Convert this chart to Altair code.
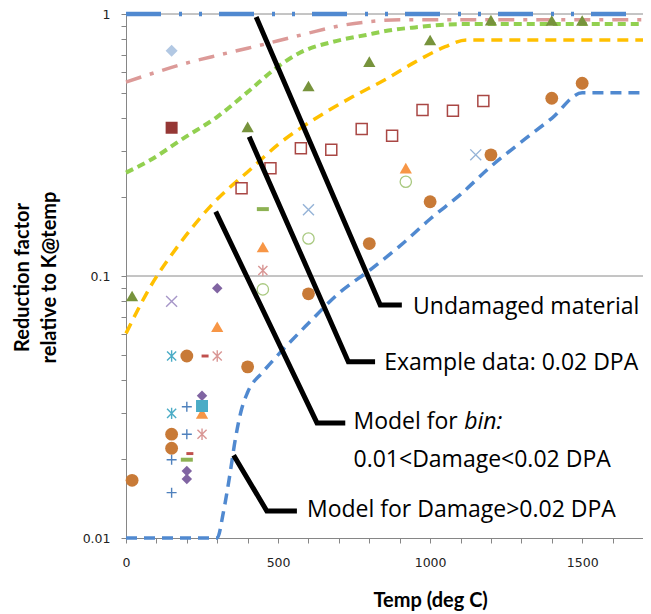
import altair as alt
import pandas as pd

# ---------------- axes ----------------
X_DOMAIN = [0, 1700]
Y_DOMAIN = [0.01, 1]
x_tick_vals = list(range(0, 1701, 100))
y_tick_vals = [0.01, 0.02, 0.03, 0.04, 0.05, 0.06, 0.07, 0.08, 0.09,
               0.1, 0.2, 0.3, 0.4, 0.5, 0.6, 0.7, 0.8, 0.9, 1]
grid_vals = [0.1, 1]

# ---------------- model curves ----------------
undamaged_x = [0, 1700]
undamaged_y = [1, 1]

pink_x = [0, 100, 200, 300, 400, 500, 600, 700, 800, 900, 1700]
pink_y = [0.55, 0.60, 0.65, 0.695, 0.74, 0.79, 0.845, 0.9, 0.935, 0.95, 0.95]

green_x = [0, 80, 190, 300, 408, 485, 570, 680, 790, 875, 950, 1100, 1700]
green_y = [0.248, 0.277, 0.336, 0.405, 0.513, 0.611, 0.71, 0.783, 0.832, 0.869, 0.889, 0.915, 0.915]

yellow_x = [0, 80, 177, 286, 407, 505, 614, 745, 850, 950, 1050, 1120, 1700]
yellow_y = [0.0604, 0.091, 0.133, 0.189, 0.254, 0.321, 0.393, 0.483, 0.56, 0.655, 0.75, 0.796, 0.796]

blue_x = [0, 300, 320, 340, 360, 380, 400, 450, 500, 600, 700, 800, 900, 1000, 1100, 1200, 1300, 1400, 1500, 1700]
blue_y = [0.01, 0.01, 0.0125, 0.017, 0.024, 0.031, 0.036, 0.043, 0.05, 0.066, 0.086, 0.105, 0.13, 0.165,
          0.205, 0.262, 0.325, 0.40, 0.5, 0.5]

# ---------------- data points ----------------
brown_circ_x = [20, 150, 150, 200, 400, 600, 800, 1000, 1200, 1400, 1500]
brown_circ_y = [0.0166, 0.0249, 0.022, 0.0495, 0.045, 0.0855, 0.133, 0.192, 0.29, 0.477, 0.544]

olive_tri_x = [20, 400, 600, 800, 1000, 1200, 1400, 1500]
olive_tri_y = [0.0839, 0.371, 0.531, 0.658, 0.796, 0.948, 0.945, 0.945]

orange_tri_x = [250, 300, 450, 920]
orange_tri_y = [0.0299, 0.064, 0.129, 0.258]

open_circ_x = [450, 600, 920]
open_circ_y = [0.0889, 0.139, 0.229]

lblue_x_x = [600, 1150]
lblue_x_y = [0.179, 0.29]

green_dash_x = [200, 450]
green_dash_y = [0.0199, 0.18]

pink_ast_x = [250, 300, 450]
pink_ast_y = [0.0249, 0.0495, 0.105]

teal_ast_x = [150, 150]
teal_ast_y = [0.0495, 0.0299]

blue_plus_x = [150, 150, 200, 200]
blue_plus_y = [0.0199, 0.0149, 0.0317, 0.0249]

purple_dia_x = [200, 200, 250, 300]
purple_dia_y = [0.018, 0.0168, 0.0349, 0.0897]

teal_sq_x = [250]
teal_sq_y = [0.0319]

red_dash_x = [210, 260]
red_dash_y = [0.021, 0.0495]

lpurple_x_x = [150]
lpurple_x_y = [0.08]

lblue_dia_x = [150]
lblue_dia_y = [0.724]

dred_sq_x = [150]
dred_sq_y = [0.368]

open_sq_x = [380, 475, 575, 675, 775, 875, 975, 1075, 1175]
open_sq_y = [0.216, 0.258, 0.307, 0.303, 0.364, 0.343, 0.43, 0.427, 0.466]

# ---------------- annotations ----------------
callout_id = [1, 1, 1, 2, 2, 2, 3, 3, 3, 4, 4, 4]
callout_ord = [0, 1, 2, 0, 1, 2, 0, 1, 2, 0, 1, 2]
callout_x = [428, 836, 907, 405, 731, 819, 295, 628, 721, 354, 463, 562]
callout_y = [0.974, 0.0775, 0.0775, 0.340, 0.0471, 0.0471, 0.176, 0.0275, 0.0275, 0.0207, 0.01268, 0.01268]

label_text = ["Undamaged material", "Example data: 0.02 DPA", "Model for",
              "0.01<Damage<0.02 DPA", "Model for Damage>0.02 DPA"]
label_x = [944, 849, 748, 748, 595]
label_y = [0.0764, 0.0466, 0.0278, 0.01986, 0.0128]
italic_text = ["bin:"]
italic_x = [1112]
italic_y = [0.0278]

# ---------------- chart ----------------
W, H = 517, 524
AXIS_GRAY = "#868686"
ANN_FONT = "Open Sans"
ANN_SIZE = 23
xs = alt.Scale(domain=X_DOMAIN, nice=False, zero=False)
ys = alt.Scale(type="log", domain=Y_DOMAIN, nice=False)

x_axis = alt.Axis(values=x_tick_vals, format="d",
                  labelExpr="datum.value % 500 === 0 ? datum.label : ''",
                  grid=False, domainColor=AXIS_GRAY, tickColor=AXIS_GRAY, tickSize=5,
                  labelFont="DejaVu Sans", labelFontSize=12.5, labelColor="#222222",
                  labelPadding=13, labelFlush=False, labelOverlap=False,
                  title="Temp (deg C)", titleFont="Lato", titleFontSize=20, titleFontWeight="bold",
                  titleColor="#000000", titleAlign="left", titleBaseline="alphabetic",
                  titleX=247, titleY=68.7)
y_axis = alt.Axis(values=y_tick_vals, format="~g",
                  labelExpr="(datum.value == 1 || datum.value == 0.1 || datum.value == 0.01) ? datum.label : ''",
                  grid=False, domainColor=AXIS_GRAY, tickColor=AXIS_GRAY, tickSize=5,
                  labelFont="DejaVu Sans", labelFontSize=12.5, labelColor="#222222",
                  labelPadding=11, labelOverlap=False, labelFlush=False,
                  title=["Reduction factor", "relative to K@temp"], titleFont="Lato", titleFontSize=20,
                  titleFontWeight="bold", titleColor="#000000", titleAngle=270, titleAlign="center",
                  titleBaseline="alphabetic", titleLineHeight=27, titleX=-97.7, titleY=263)


def enc(chart):
    return chart.encode(x=alt.X("x:Q", scale=xs, axis=x_axis),
                        y=alt.Y("y:Q", scale=ys, axis=y_axis))


def df(xv, yv):
    return pd.DataFrame({"x": xv, "y": yv})


grid = alt.Chart(pd.DataFrame({"y": grid_vals})).mark_rule(color="#8a8a8a", strokeWidth=1).encode(
    y=alt.Y("y:Q", scale=ys, axis=y_axis), x=alt.value(0), x2=alt.value(W))

layers = [grid]

curves = [
    (pink_x, pink_y, "#dc9a98", [16, 9, 4, 9], 3.5),
    (green_x, green_y, "#92d050", [8, 5], 4),
    (yellow_x, yellow_y, "#ffc000", [11, 7], 3.5),
    (blue_x, blue_y, "#5089d0", [11, 7], 3.5),
    (undamaged_x, undamaged_y, "#5089d0", [35, 18, 3, 17, 3, 17], 4.5),
]
for cx, cy, col, dash, sw in curves:
    layers.append(enc(alt.Chart(df(cx, cy)).mark_line(
        interpolate="monotone", color=col, strokeDash=dash, strokeWidth=sw)))

PLUS = "M-1,0L1,0M0,-1L0,1"
XSHAPE = "M-1,-1L1,1M-1,1L1,-1"
AST = "M0,-1L0,1M-0.8,-0.8L0.8,0.8M-0.8,0.8L0.8,-0.8"
DASH_G = "M-1,-0.33L1,-0.33L1,0.33L-1,0.33Z"
DASH_R = "M-1,-0.42L1,-0.42L1,0.42L-1,0.42Z"

points = [
    (open_sq_x, open_sq_y, "square", False, "#a94744", 121, 1.5),
    (open_circ_x, open_circ_y, "circle", False, "#a9c980", 128, 1.3),
    (brown_circ_x, brown_circ_y, "circle", True, "#c87a37", 165, 1),
    (olive_tri_x, olive_tri_y, "triangle-up", True, "#77933c", 150, 1),
    (orange_tri_x, orange_tri_y, "triangle-up", True, "#f79646", 150, 1),
    (lblue_x_x, lblue_x_y, XSHAPE, False, "#95b3d7", 120, 1.4),
    (green_dash_x, green_dash_y, DASH_G, True, "#8db253", 144, 1),
    (pink_ast_x, pink_ast_y, AST, False, "#d99694", 130, 1.4),
    (teal_ast_x, teal_ast_y, AST, False, "#4bacc6", 130, 1.4),
    (blue_plus_x, blue_plus_y, PLUS, False, "#4f81bd", 100, 1.4),
    (purple_dia_x, purple_dia_y, "diamond", True, "#8064a2", 110, 1),
    (teal_sq_x, teal_sq_y, "square", True, "#4bacc6", 144, 1),
    (red_dash_x, red_dash_y, DASH_R, True, "#c0504d", 49, 1),
    (lpurple_x_x, lpurple_x_y, XSHAPE, False, "#a696c8", 120, 1.4),
    (lblue_dia_x, lblue_dia_y, "diamond", True, "#b2c8e3", 144, 1),
    (dred_sq_x, dred_sq_y, "square", True, "#953735", 144, 1),
]
for px, py, shp, filled, col, sz, sw in points:
    m = alt.Chart(df(px, py)).mark_point(shape=shp, filled=filled, color=col, size=sz,
                                        strokeWidth=sw, opacity=1)
    layers.append(enc(m))

callouts = pd.DataFrame({"x": callout_x, "y": callout_y, "id": callout_id, "o": callout_ord})
layers.append(alt.Chart(callouts).mark_line(color="#000000", strokeWidth=5, strokeJoin="miter").encode(
    x=alt.X("x:Q", scale=xs, axis=x_axis), y=alt.Y("y:Q", scale=ys, axis=y_axis),
    detail="id:N", order="o:Q"))

labels = pd.DataFrame({"x": label_x, "y": label_y, "t": label_text})
layers.append(alt.Chart(labels).mark_text(align="left", baseline="middle", font=ANN_FONT, fontSize=ANN_SIZE,
                                          color="#000000").encode(
    x=alt.X("x:Q", scale=xs, axis=x_axis), y=alt.Y("y:Q", scale=ys, axis=y_axis), text="t:N"))
ital = pd.DataFrame({"x": italic_x, "y": italic_y, "t": italic_text})
layers.append(alt.Chart(ital).mark_text(align="left", baseline="middle", font=ANN_FONT, fontSize=ANN_SIZE,
                                        fontStyle="italic", color="#000000").encode(
    x=alt.X("x:Q", scale=xs, axis=x_axis), y=alt.Y("y:Q", scale=ys, axis=y_axis), text="t:N"))

chart = alt.layer(*layers).properties(
    width=W, height=H,
    padding={"left": 118, "top": 6, "right": 0, "bottom": 80},
    autosize=alt.AutoSizeParams(type="none"),
    background="#ffffff",
).configure_view(strokeWidth=0)

chart.save("out.html", embed_options={"renderer": "svg", "actions": False})
